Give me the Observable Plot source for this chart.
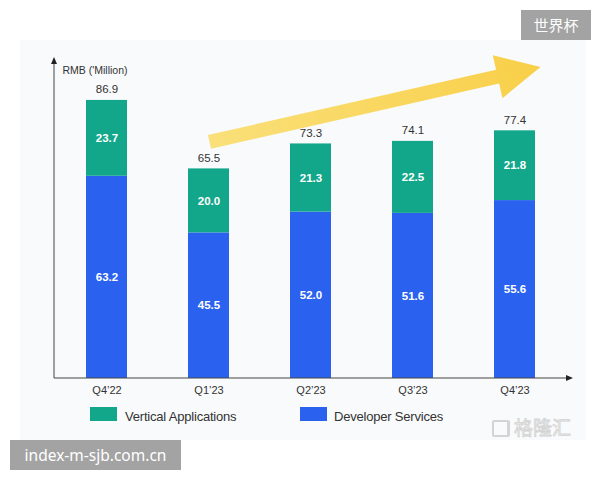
<!DOCTYPE html>
<html><head><meta charset="utf-8">
<script src="https://cdn.jsdelivr.net/npm/d3@7"></script>
<script src="https://cdn.jsdelivr.net/npm/@observablehq/plot@0.6"></script>
<style>
body{margin:0;background:#fff;font-family:"Liberation Sans",Arial,sans-serif;}
#wrap{position:relative;width:600px;height:480px;overflow:hidden;background:#fff}
#panel{position:absolute;left:20px;top:40px;width:566px;height:400px;background:#f9fafb}
#chart{position:absolute;left:0;top:0}
.sw{position:absolute;top:407px;width:27px;height:14px}
.lt{position:absolute;top:409px;font-size:13px;color:#333;line-height:15px;letter-spacing:-0.2px}
.wm{position:absolute;background:#a3a3a3;color:#fff;font-family:"Noto Sans CJK SC","Noto Sans",sans-serif}
#logo{position:absolute;left:492px;top:413px;font-family:"Noto Sans CJK SC",sans-serif;font-size:19px;color:#f4f4f4;-webkit-text-stroke:0.8px #d2d2d2;letter-spacing:0px}
#logo span{display:inline-block;width:18px;height:17px;border:2px solid #d4d4d4;border-right-width:3px;box-sizing:border-box;vertical-align:-2px;margin-right:4px;border-radius:2px}
</style></head>
<body>
<div id="wrap">
  <div id="panel"></div>
  <div id="chart"></div>
  <div id="legend"></div>
  <div id="logo"><span></span>格隆汇</div>
  <div class="wm" style="left:521px;top:10px;width:70px;height:30px;font-size:15px;line-height:30px;text-align:center">世界杯</div>
  <div class="wm" style="left:10px;top:440px;width:171px;height:30px;font-size:15.5px;line-height:30px;text-align:center;font-family:'Noto Sans',sans-serif">index-m-sjb.com.cn</div>
</div>
<script>
const quarters = ["Q4’22", "Q1’23", "Q2’23", "Q3’23", "Q4’23"];
const developerServices = [63.2, 45.5, 52.0, 51.6, 55.6];
const verticalApplications = [23.7, 20.0, 21.3, 22.5, 21.8];
const totals = [86.9, 65.5, 73.3, 74.1, 77.4];
const seriesNames = ["Developer Services", "Vertical Applications"];
const seriesColors = ["#2a62ef", "#12a78a"];
const yLabel = "RMB ('Million)";
// decorative trend arrow: start/end in data terms
const trendFrom = {q: "Q1’23", v: 73.8, dx: 1};
const trendTo = {q: "Q4’23", v: 97.2, dx: 26};

const data = [];
quarters.forEach((q, i) => {
  data.push({q, series: seriesNames[0], value: developerServices[i]});
  data.push({q, series: seriesNames[1], value: verticalApplications[i]});
});
const totalRows = quarters.map((q, i) => ({q, total: totals[i]}));

function decor(index, scales, values, dimensions) {
  const {x, y} = scales;
  const bw = x.bandwidth ? x.bandwidth() : 0;
  const g = d3.create("svg:g");
  const P0 = [x(trendFrom.q) + bw / 2 + trendFrom.dx, y(trendFrom.v)];
  const P1 = [x(trendTo.q) + bw / 2 + trendTo.dx, y(trendTo.v)];
  const dx = P1[0] - P0[0], dy = P1[1] - P0[1], len = Math.hypot(dx, dy);
  const u = [dx / len, dy / len], n = [-u[1], u[0]];
  const h = 7, H = 22, L = 44;
  const B = [P1[0] - u[0] * L, P1[1] - u[1] * L];
  const pt = (p, k) => [p[0] + n[0] * k, p[1] + n[1] * k];
  const pts = [pt(P0, h), pt(B, h), pt(B, H), P1, pt(B, -H), pt(B, -h), pt(P0, -h)];
  const defs = g.append("defs");
  const grad = defs.append("linearGradient").attr("id", "trendGrad")
    .attr("gradientUnits", "userSpaceOnUse")
    .attr("x1", P0[0]).attr("y1", P0[1]).attr("x2", P1[0]).attr("y2", P1[1]);
  grad.append("stop").attr("offset", "0").attr("stop-color", "#fae07a");
  grad.append("stop").attr("offset", "1").attr("stop-color", "#f8cf48");
  g.append("polygon").attr("points", pts.map(p => p.join(",")).join(" "))
    .attr("fill", "url(#trendGrad)");
  return g.node();
}

function axes(index, scales, values, dimensions) {
  const {y} = scales;
  const g = d3.create("svg:g");
  const x0 = dimensions.marginLeft;
  const x1 = dimensions.width - dimensions.marginRight;
  const yb = y(0), yt = dimensions.marginTop;
  g.append("line").attr("x1", x0).attr("x2", x0).attr("y1", yb).attr("y2", yt + 3)
    .attr("stroke", "#444").attr("stroke-width", 1);
  g.append("polygon").attr("points", `${x0},${yt - 3} ${x0 - 3},${yt + 4} ${x0 + 3},${yt + 4}`).attr("fill", "#222");
  g.append("line").attr("x1", x0).attr("x2", x1 - 3).attr("y1", yb).attr("y2", yb)
    .attr("stroke", "#444").attr("stroke-width", 1);
  g.append("polygon").attr("points", `${x1 + 3},${yb} ${x1 - 4},${yb - 3} ${x1 - 4},${yb + 3}`).attr("fill", "#222");
  return g.node();
}

const chart = Plot.plot({
  width: 600,
  height: 400,
  marginLeft: 54,
  marginRight: 30,
  marginTop: 60,
  marginBottom: 22,
  style: {background: "transparent", fontFamily: "'Liberation Sans', Arial, sans-serif", fontSize: "11px", color: "#333"},
  x: {domain: quarters, range: [55, 565], paddingInner: 0.6, paddingOuter: 0.3, tickSize: 0, tickPadding: 8, label: null},
  y: {domain: [0, 99.375], axis: null},
  color: {domain: seriesNames, range: seriesColors},
  marks: [
    decor,
    Plot.barY(data, {x: "q", y: "value", fill: "series"}),
    axes,
    Plot.text(data, Plot.stackY({x: "q", y: "value", text: d => d.value.toFixed(1), fill: "white", fontWeight: "bold", fontSize: 11.5})),
    Plot.text(totalRows, {x: "q", y: "total", text: d => d.total.toFixed(1), dy: -11, fill: "#333", fontSize: 11.5}),
    Plot.text([yLabel], {frameAnchor: "top-left", dx: 8, dy: 6, textAnchor: "start", fill: "#333", fontSize: 10.5})
  ]
});
document.getElementById("chart").appendChild(chart);

const legend = document.getElementById("legend");
const legendPos = [[300, 334], [90, 125]];
seriesNames.forEach((s, i) => {
  const sw = document.createElement("div");
  sw.className = "sw"; sw.style.left = legendPos[i][0] + "px"; sw.style.background = seriesColors[i];
  const t = document.createElement("div");
  t.className = "lt"; t.style.left = legendPos[i][1] + "px"; t.textContent = s;
  legend.appendChild(sw); legend.appendChild(t);
});
</script>
</body></html>
